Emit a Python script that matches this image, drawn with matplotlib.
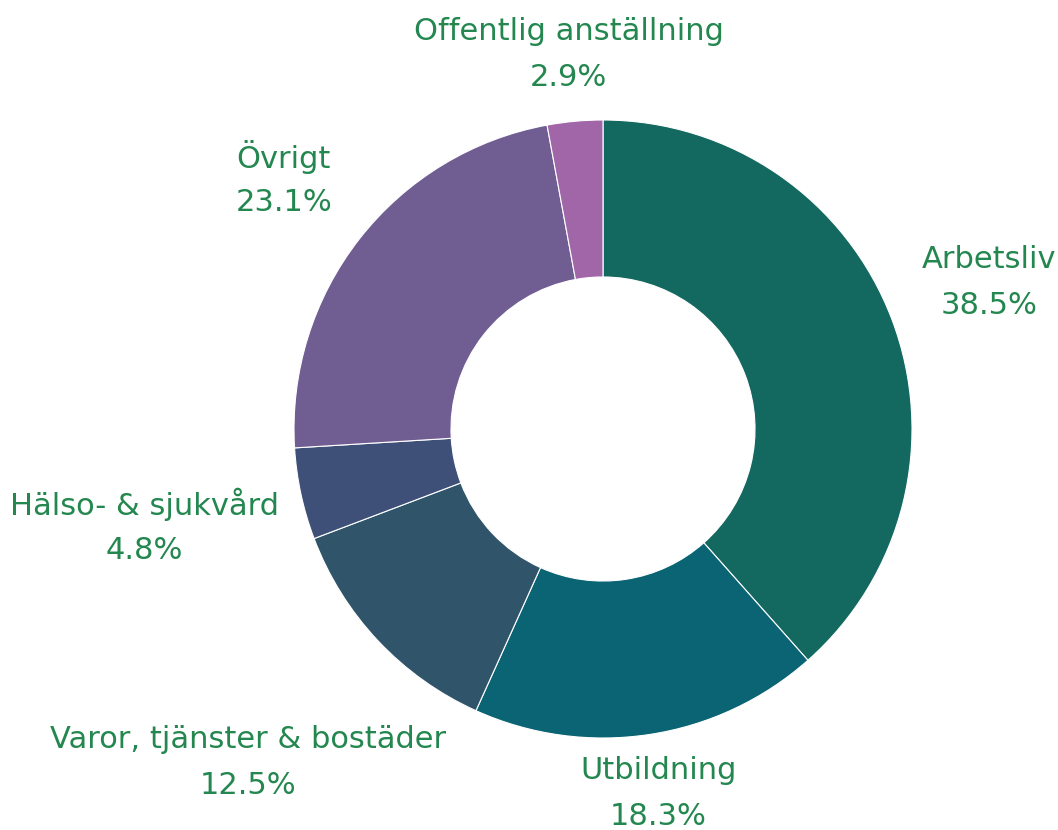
import numpy as np
import matplotlib.pyplot as plt

# andel per område (procent), medurs från kl 12
categories = ["Arbetsliv", "Utbildning", "Varor, tjänster & bostäder",
              "Hälso- & sjukvård", "Övrigt", "Offentlig anställning"]
shares = [38.5, 18.3, 12.5, 4.8, 23.1, 2.9]
colors = ["#13685f", "#0b6474", "#30556b", "#3e5078", "#705d92", "#a066a8"]
# radial distance of each label (in outer-radius units)
label_r = [1.337, 1.194, 1.576, 1.518, 1.311, 1.217]

text_color = "#23874f"

fig = plt.figure(figsize=(10.58, 8.3), dpi=100)
ax = fig.add_axes([0, 0, 1, 1])

wedges, _ = ax.pie(shares, colors=colors, startangle=90, counterclock=False,
                   radius=1.0, wedgeprops=dict(width=0.508, edgecolor="white", linewidth=0.8))

for w, name, val, r in zip(wedges, categories, shares, label_r):
    mid = np.deg2rad((w.theta1 + w.theta2) / 2)
    x, y = r * np.cos(mid), r * np.sin(mid)
    # two lines, ~46 px apart
    ax.annotate(name, (x, y), xytext=(0, 16.5), textcoords="offset points",
                ha="center", va="center", color=text_color, fontsize=22,
                family="DejaVu Sans")
    ax.annotate(f"{val}%", (x, y), xytext=(0, -16.5), textcoords="offset points",
                ha="center", va="center", color=text_color, fontsize=22,
                family="DejaVu Sans")

# center of donut at pixel (603, 429), outer radius 309 px
ax.set_xlim(-603 / 309, (1058 - 603) / 309)
ax.set_ylim(-(830 - 429) / 309, 429 / 309)
ax.set_aspect("auto")
ax.axis("off")

fig.savefig("out.png", dpi=100)
